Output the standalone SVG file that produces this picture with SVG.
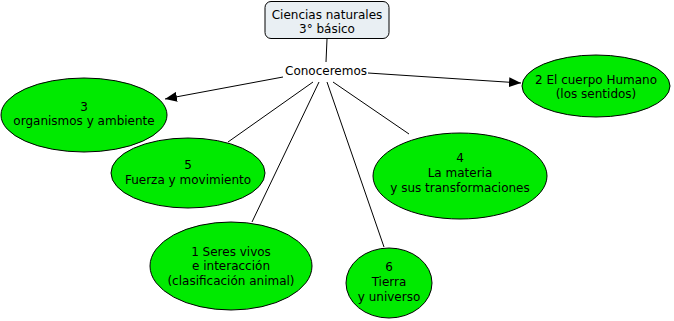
<svg xmlns="http://www.w3.org/2000/svg" width="674" height="321" viewBox="0 0 674 321">
<style>
text{font-family:"DejaVu Sans",Verdana,sans-serif;font-size:12px;fill:#000;text-anchor:middle}
.ell{fill:#00ea00;stroke:#000;stroke-width:1}
.ln{stroke:#000;stroke-width:1;fill:none}
</style>
<defs>
<marker id="ah" viewBox="0 0 12 10" refX="12" refY="5" markerWidth="12" markerHeight="10" markerUnits="userSpaceOnUse" orient="auto">
<path d="M0,0 L12,5 L0,10 Z" fill="#000"/>
</marker>
</defs>
<rect width="674" height="321" fill="#fff"/>
<g id="connectors">
<line class="ln" x1="327" y1="39" x2="326" y2="62"/>
<line class="ln" x1="283" y1="77" x2="165" y2="99" marker-end="url(#ah)"/>
<line class="ln" x1="368" y1="73" x2="521" y2="83" marker-end="url(#ah)"/>
<line class="ln" x1="313" y1="82" x2="228" y2="142"/>
<line class="ln" x1="319" y1="82" x2="252" y2="222"/>
<line class="ln" x1="327" y1="82" x2="384" y2="247"/>
<line class="ln" x1="333" y1="82" x2="409" y2="134"/>
</g>
<g id="root">
<rect x="265" y="1.5" width="124" height="37" rx="6" fill="#e9eff3" stroke="#000"/>
<text x="327" y="19">Ciencias naturales</text>
<text x="327" y="33">3° básico</text>
</g>
<g id="conoceremos">
<text x="326" y="75">Conoceremos</text>
</g>
<g id="n3">
<ellipse class="ell" cx="84" cy="115" rx="83" ry="37"/>
<text x="84" y="111">3</text>
<text x="84" y="125">organismos y ambiente</text>
</g>
<g id="n2">
<ellipse class="ell" cx="596" cy="86" rx="74" ry="31"/>
<text x="596" y="84">2 El cuerpo Humano</text>
<text x="596" y="98">(los sentidos)</text>
</g>
<g id="n5">
<ellipse class="ell" cx="188" cy="173" rx="77" ry="35"/>
<text x="188" y="169">5</text>
<text x="188" y="184">Fuerza y movimiento</text>
</g>
<g id="n4">
<ellipse class="ell" cx="460" cy="176" rx="87" ry="43"/>
<text x="460" y="162">4</text>
<text x="460" y="177">La materia</text>
<text x="460" y="192">y sus transformaciones</text>
</g>
<g id="n1">
<ellipse class="ell" cx="231" cy="266" rx="81" ry="44"/>
<text x="231" y="256">1 Seres vivos</text>
<text x="231" y="270">e interacción</text>
<text x="231" y="285">(clasificación animal)</text>
</g>
<g id="n6">
<ellipse class="ell" cx="389" cy="283" rx="43" ry="35"/>
<text x="389" y="271">6</text>
<text x="389" y="286">Tierra</text>
<text x="389" y="301">y universo</text>
</g>
</svg>
